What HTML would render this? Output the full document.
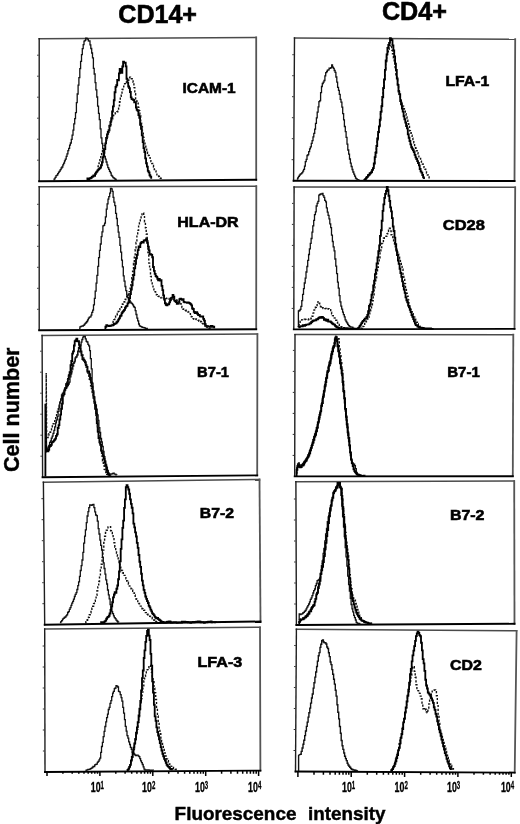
<!DOCTYPE html>
<html><head><meta charset="utf-8"><title>Figure</title>
<style>html,body{margin:0;padding:0;background:#fff;}body{width:520px;height:824px;overflow:hidden;font-family:"Liberation Sans",sans-serif;}svg{display:block;will-change:transform;}</style>
</head><body>
<svg width="520" height="824" viewBox="0 0 520 824">
<rect width="520" height="824" fill="#fff"/>
<line x1="39.2" y1="38.7" x2="256.2" y2="37.4" stroke="#4a4a4a" stroke-width="1.5" stroke-linecap="square"/>
<line x1="256.2" y1="37.4" x2="256.2" y2="179.8" stroke="#555" stroke-width="1.8" stroke-linecap="square"/>
<line x1="39.2" y1="38.7" x2="39.2" y2="181.2" stroke="#1e1e1e" stroke-width="1.4" stroke-linecap="square"/>
<line x1="39.2" y1="181.2" x2="256.2" y2="179.8" stroke="#000" stroke-width="1.9" stroke-linecap="square"/>
<path d="M38.7,160.2 h-1.6 M38.7,139.2 h-1.6 M38.7,118.2 h-1.6 M38.7,97.2 h-1.6 M38.7,76.2 h-1.6 M38.7,55.2 h-1.6" stroke="#333" stroke-width="1" fill="none"/>
<line x1="39.2" y1="186.7" x2="256.3" y2="186.2" stroke="#4a4a4a" stroke-width="1.5" stroke-linecap="square"/>
<line x1="256.3" y1="186.2" x2="256.2" y2="329.2" stroke="#555" stroke-width="1.8" stroke-linecap="square"/>
<line x1="39.2" y1="186.7" x2="39.2" y2="330.3" stroke="#1e1e1e" stroke-width="1.4" stroke-linecap="square"/>
<line x1="39.2" y1="330.3" x2="256.2" y2="329.2" stroke="#000" stroke-width="1.9" stroke-linecap="square"/>
<path d="M38.7,309.3 h-1.6 M38.7,288.3 h-1.6 M38.7,267.3 h-1.6 M38.7,246.3 h-1.6 M38.7,225.3 h-1.6 M38.7,204.3 h-1.6" stroke="#333" stroke-width="1" fill="none"/>
<line x1="42.1" y1="335.5" x2="257.4" y2="334.1" stroke="#4a4a4a" stroke-width="1.5" stroke-linecap="square"/>
<line x1="257.4" y1="334.1" x2="257.2" y2="475.4" stroke="#555" stroke-width="1.8" stroke-linecap="square"/>
<line x1="42.1" y1="335.5" x2="42.6" y2="477.2" stroke="#1e1e1e" stroke-width="1.4" stroke-linecap="square"/>
<line x1="42.6" y1="477.2" x2="257.2" y2="475.4" stroke="#000" stroke-width="1.9" stroke-linecap="square"/>
<path d="M42.0,456.2 h-1.6 M42.0,435.2 h-1.6 M41.9,414.2 h-1.6 M41.8,393.2 h-1.6 M41.7,372.2 h-1.6 M41.7,351.2 h-1.6" stroke="#333" stroke-width="1" fill="none"/>
<line x1="43.4" y1="482.3" x2="259.5" y2="479.4" stroke="#4a4a4a" stroke-width="1.5" stroke-linecap="square"/>
<line x1="259.5" y1="479.4" x2="260.5" y2="621.5" stroke="#555" stroke-width="1.8" stroke-linecap="square"/>
<line x1="43.4" y1="482.3" x2="44.7" y2="624.7" stroke="#1e1e1e" stroke-width="1.4" stroke-linecap="square"/>
<line x1="44.7" y1="624.7" x2="260.5" y2="621.5" stroke="#000" stroke-width="1.9" stroke-linecap="square"/>
<path d="M44.0,603.7 h-1.6 M43.8,582.7 h-1.6 M43.6,561.7 h-1.6 M43.4,540.7 h-1.6 M43.2,519.7 h-1.6 M43.0,498.7 h-1.6" stroke="#333" stroke-width="1" fill="none"/>
<line x1="44.7" y1="629.0" x2="260.0" y2="627.3" stroke="#4a4a4a" stroke-width="1.5" stroke-linecap="square"/>
<line x1="260.0" y1="627.3" x2="260.4" y2="770.6" stroke="#555" stroke-width="1.8" stroke-linecap="square"/>
<line x1="44.7" y1="629.0" x2="45.0" y2="772.0" stroke="#1e1e1e" stroke-width="1.4" stroke-linecap="square"/>
<line x1="45.0" y1="772.0" x2="260.4" y2="770.6" stroke="#000" stroke-width="1.9" stroke-linecap="square"/>
<path d="M44.5,751.0 h-1.6 M44.4,730.0 h-1.6 M44.4,709.0 h-1.6 M44.3,688.0 h-1.6 M44.3,667.0 h-1.6 M44.2,646.0 h-1.6" stroke="#333" stroke-width="1" fill="none"/>
<line x1="294.5" y1="38.0" x2="515.2" y2="39.2" stroke="#4a4a4a" stroke-width="1.5" stroke-linecap="square"/>
<line x1="515.2" y1="39.2" x2="514.5" y2="181.0" stroke="#555" stroke-width="1.8" stroke-linecap="square"/>
<line x1="294.5" y1="38.0" x2="293.6" y2="180.7" stroke="#1e1e1e" stroke-width="1.4" stroke-linecap="square"/>
<line x1="293.6" y1="180.7" x2="514.5" y2="181.0" stroke="#000" stroke-width="1.9" stroke-linecap="square"/>
<path d="M293.2,159.7 h-1.6 M293.4,138.7 h-1.6 M293.5,117.7 h-1.6 M293.6,96.7 h-1.6 M293.8,75.7 h-1.6 M293.9,54.7 h-1.6" stroke="#333" stroke-width="1" fill="none"/>
<line x1="294.1" y1="187.0" x2="515.2" y2="187.3" stroke="#4a4a4a" stroke-width="1.5" stroke-linecap="square"/>
<line x1="515.2" y1="187.3" x2="514.5" y2="328.9" stroke="#555" stroke-width="1.8" stroke-linecap="square"/>
<line x1="294.1" y1="187.0" x2="293.8" y2="329.4" stroke="#1e1e1e" stroke-width="1.4" stroke-linecap="square"/>
<line x1="293.8" y1="329.4" x2="514.5" y2="328.9" stroke="#000" stroke-width="1.9" stroke-linecap="square"/>
<path d="M293.3,308.4 h-1.6 M293.4,287.4 h-1.6 M293.4,266.4 h-1.6 M293.5,245.4 h-1.6 M293.5,224.4 h-1.6 M293.6,203.4 h-1.6" stroke="#333" stroke-width="1" fill="none"/>
<line x1="295.0" y1="334.6" x2="513.3" y2="334.7" stroke="#4a4a4a" stroke-width="1.5" stroke-linecap="square"/>
<line x1="513.3" y1="334.7" x2="512.8" y2="476.2" stroke="#555" stroke-width="1.8" stroke-linecap="square"/>
<line x1="295.0" y1="334.6" x2="294.7" y2="476.4" stroke="#1e1e1e" stroke-width="1.4" stroke-linecap="square"/>
<line x1="294.7" y1="476.4" x2="512.8" y2="476.2" stroke="#000" stroke-width="1.9" stroke-linecap="square"/>
<path d="M294.2,455.4 h-1.6 M294.3,434.4 h-1.6 M294.3,413.4 h-1.6 M294.4,392.4 h-1.6 M294.4,371.4 h-1.6 M294.5,350.4 h-1.6" stroke="#333" stroke-width="1" fill="none"/>
<line x1="295.9" y1="481.8" x2="514.2" y2="481.1" stroke="#4a4a4a" stroke-width="1.5" stroke-linecap="square"/>
<line x1="514.2" y1="481.1" x2="514.5" y2="623.8" stroke="#555" stroke-width="1.8" stroke-linecap="square"/>
<line x1="295.9" y1="481.8" x2="296.4" y2="625.0" stroke="#1e1e1e" stroke-width="1.4" stroke-linecap="square"/>
<line x1="296.4" y1="625.0" x2="514.5" y2="623.8" stroke="#000" stroke-width="1.9" stroke-linecap="square"/>
<path d="M295.8,604.0 h-1.6 M295.8,583.0 h-1.6 M295.7,562.0 h-1.6 M295.6,541.0 h-1.6 M295.5,520.0 h-1.6 M295.5,499.0 h-1.6" stroke="#333" stroke-width="1" fill="none"/>
<line x1="296.4" y1="629.3" x2="516.6" y2="630.8" stroke="#4a4a4a" stroke-width="1.5" stroke-linecap="square"/>
<line x1="516.6" y1="630.8" x2="514.7" y2="772.6" stroke="#555" stroke-width="1.8" stroke-linecap="square"/>
<line x1="296.4" y1="629.3" x2="295.5" y2="771.5" stroke="#1e1e1e" stroke-width="1.4" stroke-linecap="square"/>
<line x1="295.5" y1="771.5" x2="514.7" y2="772.6" stroke="#000" stroke-width="1.9" stroke-linecap="square"/>
<path d="M295.1,750.5 h-1.6 M295.3,729.5 h-1.6 M295.4,708.5 h-1.6 M295.5,687.5 h-1.6 M295.7,666.5 h-1.6 M295.8,645.5 h-1.6" stroke="#333" stroke-width="1" fill="none"/>
<path d="M53.4,180.0 H54.2 V178.9 H55.1 V177.4 H56.0 V175.6 H56.8 V175.1 H57.7 V173.7 H58.5 V172.1 H59.4 V171.2 H60.2 V169.7 H61.1 V168.0 H61.9 V167.0 H62.8 V164.9 H63.6 V163.1 H64.5 V160.9 H65.3 V159.1 H66.2 V156.3 H67.0 V153.9 H67.9 V150.7 H68.7 V148.3 H69.6 V145.1 H70.4 V143.0 H71.3 V139.3 H72.1 V135.2 H73.0 V130.2 H73.8 V123.8 H74.7 V118.7 H75.5 V112.6 H76.4 V102.7 H77.2 V94.0 H78.1 V85.2 H78.9 V77.7 H79.8 V68.7 H80.6 V61.4 H81.5 V54.6 H82.3 V48.6 H83.2 V44.6 H84.0 V41.1 H84.9 V40.3 H85.7 V38.1 H86.6 V38.5 H87.4 V39.2 H88.3 V40.9 H89.1 V41.0 H90.0 V44.9 H90.8 V48.5 H91.7 V53.0 H92.5 V57.8 H93.4 V68.4 H94.2 V74.0 H95.1 V82.6 H95.9 V89.8 H96.8 V97.0 H97.6 V106.1 H98.5 V113.3 H99.3 V119.7 H100.2 V128.9 H101.0 V137.9 H101.9 V143.5 H102.7 V148.7 H103.6 V152.5 H104.4 V156.4 H105.3 V159.1 H106.1 V162.0 H107.0 V164.8 H107.8 V167.7 H108.7 V169.4 H109.5 V171.3 H110.4 V172.8 H111.2 V175.3 H112.1 V176.3 H112.9 V177.6 H113.8 V178.2 H114.6 V178.8 H115.5 V179.5 H116.3 V179.8" fill="none" stroke="#111" stroke-width="1.3"/>
<path d="M86.6,179.7 H87.4 V178.5 H88.3 V179.0 H89.1 V178.5 H90.0 V178.2 H90.8 V177.8 H91.7 V176.8 H92.5 V176.5 H93.4 V175.4 H94.2 V175.8 H95.1 V173.7 H95.9 V172.4 H96.8 V171.4 H97.6 V170.1 H98.5 V169.1 H99.3 V168.4 H100.2 V167.6 H101.0 V165.2 H101.9 V162.2 H102.7 V157.2 H103.6 V152.8 H104.4 V149.1 H105.3 V143.4 H106.1 V138.0 H107.0 V134.4 H107.8 V132.0 H108.7 V130.4 H109.5 V125.7 H110.4 V121.9 H111.2 V118.2 H112.1 V111.5 H112.9 V106.3 H113.8 V100.2 H114.6 V92.2 H115.5 V86.9 H116.3 V85.2 H117.2 V79.8 H118.0 V80.4 H118.9 V73.4 H119.7 V69.0 H120.6 V71.3 H121.4 V72.7 H122.3 V66.5 H123.1 V61.7 H124.0 V62.8 H124.8 V62.7 H125.7 V66.3 H126.5 V78.7 H127.4 V82.6 H128.2 V86.5 H129.1 V88.1 H129.9 V92.0 H130.8 V97.4 H131.6 V99.1 H132.5 V99.4 H133.3 V100.0 H134.2 V102.4 H135.0 V102.2 H135.9 V107.5 H136.7 V109.9 H137.6 V110.7 H138.4 V115.1 H139.3 V117.9 H140.1 V124.7 H141.0 V128.7 H141.8 V135.3 H142.7 V142.1 H143.5 V148.1 H144.4 V152.0 H145.2 V158.4 H146.1 V163.2 H146.9 V166.6 H147.8 V170.8 H148.6 V172.4 H149.5 V175.2 H150.3 V176.6 H151.2 V178.8" fill="none" stroke="#000" stroke-width="1.85"/>
<path d="M97.4,166.6 H98.2 V163.6 H99.1 V161.1 H99.9 V157.9 H100.8 V154.6 H101.6 V152.8 H102.5 V150.5 H103.3 V148.7 H104.2 V145.8 H105.0 V144.1 H105.9 V141.1 H106.7 V138.1 H107.6 V133.7 H108.4 V130.1 H109.3 V125.8 H110.1 V124.9 H111.0 V120.6 H111.8 V119.8 H112.7 V117.1 H113.5 V115.1 H114.4 V113.8 H115.2 V112.9 H116.1 V112.7 H116.9 V111.7 H117.8 V111.2 H118.6 V105.9 H119.5 V101.8 H120.3 V96.4 H121.2 V94.0 H122.0 V89.5 H122.9 V87.9 H123.7 V86.2 H124.6 V83.7 H125.4 V83.9 H126.3 V82.3 H127.1 V81.6 H128.0 V80.2 H128.8 V77.8 H129.7 V77.1 H130.5 V77.5 H131.4 V78.8 H132.2 V80.1 H133.1 V82.2 H133.9 V87.6 H134.8 V93.8 H135.6 V98.7 H136.5 V101.3 H137.3 V103.2 H138.2 V107.4 H139.0 V110.6 H139.9 V115.8 H140.7 V121.4 H141.6 V126.4 H142.4 V132.1 H143.3 V137.4 H144.1 V142.4 H145.0 V145.2 H145.8 V149.1 H146.7 V150.8 H147.5 V153.2 H148.4 V155.5 H149.2 V157.6 H150.1 V159.8 H150.9 V161.6 H151.8 V163.5 H152.6 V165.5 H153.5 V167.0 H154.3 V169.5 H155.2 V170.9 H156.0 V172.6 H156.9 V174.9 H157.7 V175.8 H158.6 V176.5 H159.4 V177.9 H160.3 V178.3 H161.1 V179.1" fill="none" stroke="#111" stroke-width="1.4" stroke-dasharray="2.2 1.7"/>
<path d="M79.1,329.0 H79.9 V326.8 H80.8 V326.3 H81.6 V326.1 H82.5 V326.0 H83.3 V325.4 H84.2 V324.5 H85.0 V323.4 H85.9 V322.5 H86.7 V321.5 H87.6 V319.9 H88.4 V318.2 H89.3 V317.2 H90.1 V316.9 H91.0 V315.1 H91.8 V312.4 H92.7 V310.1 H93.5 V304.9 H94.4 V298.3 H95.2 V291.2 H96.1 V283.1 H96.9 V275.4 H97.8 V266.3 H98.6 V257.7 H99.5 V250.4 H100.3 V244.0 H101.2 V236.7 H102.0 V231.9 H102.9 V225.9 H103.7 V225.3 H104.6 V223.2 H105.4 V216.8 H106.3 V209.2 H107.1 V203.8 H108.0 V199.2 H108.8 V196.6 H109.7 V193.1 H110.5 V188.3 H111.4 V188.9 H112.2 V191.3 H113.1 V197.3 H113.9 V202.1 H114.8 V205.7 H115.6 V213.4 H116.5 V218.5 H117.3 V225.7 H118.2 V232.2 H119.0 V237.4 H119.9 V245.3 H120.7 V252.2 H121.6 V260.1 H122.4 V266.9 H123.3 V275.9 H124.1 V281.2 H125.0 V286.5 H125.8 V290.6 H126.7 V295.2 H127.5 V297.5 H128.4 V300.1 H129.2 V300.7 H130.1 V302.0 H130.9 V303.0 H131.8 V303.6 H132.6 V304.8 H133.5 V306.5 H134.3 V307.4 H135.2 V310.7 H136.0 V314.5 H136.9 V318.1 H137.7 V320.9 H138.6 V324.0 H139.4 V325.9 H140.3 V326.4 H141.1 V326.7 H142.0 V327.4 H142.8 V327.3 H143.7 V327.6 H144.5 V327.8 H145.4 V328.4 H146.2 V328.3 H147.1 V328.3 H147.9 V328.3" fill="none" stroke="#111" stroke-width="1.3"/>
<path d="M104.6,329.0 H105.4 V326.7 H106.3 V325.1 H107.1 V325.7 H108.0 V325.9 H108.8 V326.0 H109.7 V325.7 H110.5 V325.9 H111.4 V325.4 H112.2 V325.3 H113.1 V324.9 H113.9 V324.0 H114.8 V323.6 H115.6 V323.3 H116.5 V322.2 H117.3 V321.4 H118.2 V319.6 H119.0 V318.4 H119.9 V316.2 H120.7 V315.5 H121.6 V313.1 H122.4 V311.8 H123.3 V310.9 H124.1 V309.8 H125.0 V307.7 H125.8 V306.3 H126.7 V305.9 H127.5 V303.4 H128.4 V302.2 H129.2 V298.3 H130.1 V294.0 H130.9 V289.5 H131.8 V285.4 H132.6 V279.5 H133.5 V275.0 H134.3 V268.3 H135.2 V263.7 H136.0 V258.4 H136.9 V254.8 H137.7 V250.1 H138.6 V246.4 H139.4 V247.1 H140.3 V243.4 H141.1 V242.4 H142.0 V242.0 H142.8 V242.6 H143.7 V240.3 H144.5 V240.6 H145.4 V239.8 H146.2 V238.4 H147.1 V242.9 H147.9 V246.6 H148.8 V250.4 H149.6 V254.3 H150.5 V254.2 H151.3 V254.9 H152.2 V257.2 H153.0 V267.0 H153.9 V270.8 H154.7 V273.8 H155.6 V276.0 H156.4 V276.9 H157.3 V278.7 H158.1 V280.4 H159.0 V278.9 H159.8 V280.5 H160.7 V280.2 H161.5 V285.8 H162.4 V290.1 H163.2 V295.4 H164.1 V299.5 H164.9 V303.2 H165.8 V304.9 H166.6 V305.2 H167.5 V304.2 H168.3 V304.4 H169.2 V302.3 H170.0 V300.3 H170.9 V298.1 H171.7 V297.6 H172.6 V294.9 H173.4 V296.6 H174.3 V300.6 H175.1 V301.2 H176.0 V302.1 H176.8 V303.7 H177.7 V303.6 H178.5 V302.5 H179.4 V299.1 H180.2 V298.6 H181.1 V299.1 H181.9 V299.7 H182.8 V299.1 H183.6 V301.9 H184.5 V302.4 H185.3 V302.3 H186.2 V302.4 H187.0 V302.8 H187.9 V302.3 H188.7 V302.8 H189.6 V303.4 H190.4 V304.1 H191.3 V305.4 H192.1 V308.5 H193.0 V309.0 H193.8 V311.9 H194.7 V313.1 H195.5 V312.7 H196.4 V312.1 H197.2 V313.7 H198.1 V315.0 H198.9 V314.9 H199.8 V316.4 H200.6 V316.6 H201.5 V316.6 H202.3 V316.4 H203.2 V318.8 H204.0 V320.6 H204.9 V324.2 H205.7 V325.8 H206.6 V326.3 H207.4 V326.1 H208.3 V326.6 H209.1 V326.6 H210.0 V326.7 H210.8 V325.9 H211.7 V326.0 H212.5 V326.7 H213.4 V326.7 H214.2 V328.3" fill="none" stroke="#000" stroke-width="1.85"/>
<path d="M111.4,325.2 H112.2 V323.4 H113.1 V321.5 H113.9 V319.6 H114.8 V318.0 H115.6 V316.1 H116.5 V314.7 H117.3 V313.5 H118.2 V311.4 H119.0 V309.8 H119.9 V308.7 H120.7 V307.2 H121.6 V305.8 H122.4 V304.0 H123.3 V302.9 H124.1 V301.7 H125.0 V299.5 H125.8 V298.4 H126.7 V296.5 H127.5 V295.2 H128.4 V293.2 H129.2 V291.6 H130.1 V288.1 H130.9 V283.9 H131.8 V277.8 H132.6 V271.1 H133.5 V263.5 H134.3 V257.2 H135.2 V249.7 H136.0 V242.4 H136.9 V235.1 H137.7 V230.4 H138.6 V225.3 H139.4 V221.5 H140.3 V219.3 H141.1 V214.9 H142.0 V213.0 H142.8 V213.0 H143.7 V215.5 H144.5 V221.8 H145.4 V227.7 H146.2 V234.0 H147.1 V241.0 H147.9 V252.5 H148.8 V263.1 H149.6 V269.3 H150.5 V276.4 H151.3 V280.9 H152.2 V284.7 H153.0 V288.9 H153.9 V290.6 H154.7 V291.6 H155.6 V293.5 H156.4 V294.8 H157.3 V295.3 H158.1 V296.2 H159.0 V296.5 H159.8 V297.2 H160.7 V297.9 H161.5 V297.4 H162.4 V298.0 H163.2 V297.9 H164.1 V298.3 H164.9 V298.0 H165.8 V298.3 H166.6 V298.6 H167.5 V299.1 H168.3 V299.3 H169.2 V298.5 H170.0 V298.8 H170.9 V299.4 H171.7 V298.5 H172.6 V299.1 H173.4 V299.4 H174.3 V300.0 H175.1 V300.0 H176.0 V299.9 H176.8 V300.4 H177.7 V301.1 H178.5 V302.5 H179.4 V302.7 H180.2 V303.8 H181.1 V305.6 H181.9 V307.6 H182.8 V309.0 H183.6 V309.4 H184.5 V310.1 H185.3 V310.3 H186.2 V311.2 H187.0 V311.5 H187.9 V312.0 H188.7 V312.9 H189.6 V313.6 H190.4 V315.1 H191.3 V316.8 H192.1 V318.6 H193.0 V318.6 H193.8 V319.3 H194.7 V318.9 H195.5 V319.0 H196.4 V319.6 H197.2 V319.6 H198.1 V320.2 H198.9 V321.2 H199.8 V321.0 H200.6 V321.7 H201.5 V322.6 H202.3 V323.4 H203.2 V324.2 H204.0 V325.1 H204.9 V326.1 H205.7 V326.8 H206.6 V327.0 H207.4 V327.6 H208.3 V328.0 H209.1 V328.2 H210.0 V328.6 H210.8 V328.6" fill="none" stroke="#111" stroke-width="1.4" stroke-dasharray="2.2 1.7"/>
<path d="M46.2,450.5 H47.1 V449.0 H47.9 V447.1 H48.8 V445.4 H49.6 V442.4 H50.5 V440.9 H51.3 V438.1 H52.2 V436.2 H53.0 V433.3 H53.9 V430.4 H54.7 V426.8 H55.6 V422.9 H56.4 V419.8 H57.3 V416.6 H58.1 V411.4 H59.0 V407.4 H59.8 V402.2 H60.7 V399.0 H61.5 V395.0 H62.4 V393.5 H63.2 V392.4 H64.1 V390.9 H64.9 V388.3 H65.8 V388.3 H66.6 V386.8 H67.5 V385.5 H68.3 V384.0 H69.2 V382.2 H70.0 V376.8 H70.9 V373.9 H71.7 V367.9 H72.6 V363.9 H73.4 V362.8 H74.3 V361.5 H75.1 V357.8 H76.0 V357.1 H76.8 V355.0 H77.7 V351.1 H78.5 V347.7 H79.4 V346.4 H80.2 V346.0 H81.1 V342.2 H81.9 V339.5 H82.8 V337.1 H83.6 V336.4 H84.5 V336.5 H85.3 V338.8 H86.2 V341.3 H87.0 V342.0 H87.9 V344.4 H88.7 V345.9 H89.6 V350.6 H90.4 V358.6 H91.3 V368.9 H92.1 V383.1 H93.0 V390.8 H93.8 V396.7 H94.7 V402.1 H95.5 V405.0 H96.4 V409.1 H97.2 V414.9 H98.1 V420.5 H98.9 V427.6 H99.8 V432.5 H100.6 V438.4 H101.5 V442.0 H102.3 V446.5 H103.2 V451.3 H104.0 V456.7 H104.9 V460.8 H105.7 V464.5 H106.6 V467.2 H107.4 V470.4 H108.3 V473.0 H109.1 V473.8 H110.0 V474.1 H110.8 V474.1 H111.7 V473.8 H112.5 V473.4 H113.4 V473.1 H114.2 V474.2 H115.1 V474.1 H115.9 V474.8 H116.8 V475.1" fill="none" stroke="#111" stroke-width="1.3"/>
<path d="M45.4,476.5 L45.4,403.7 L46.4,451.7 L47.5,451.2 H48.4 V449.7 H49.2 V446.6 H50.1 V446.1 H50.9 V444.8 H51.8 V442.4 H52.6 V441.8 H53.5 V440.8 H54.3 V439.7 H55.2 V438.6 H56.0 V435.9 H56.9 V434.2 H57.7 V428.0 H58.6 V425.1 H59.4 V419.5 H60.3 V414.6 H61.1 V408.8 H62.0 V403.6 H62.8 V395.5 H63.7 V394.0 H64.5 V389.7 H65.4 V388.0 H66.2 V384.0 H67.1 V384.6 H67.9 V379.0 H68.8 V375.2 H69.6 V372.2 H70.5 V365.2 H71.3 V361.0 H72.2 V353.6 H73.0 V351.3 H73.9 V345.5 H74.7 V341.1 H75.6 V340.1 H76.4 V338.7 H77.3 V341.2 H78.1 V341.1 H79.0 V344.8 H79.8 V348.2 H80.7 V351.4 H81.5 V355.3 H82.4 V359.1 H83.2 V359.7 H84.1 V360.7 H84.9 V362.2 H85.8 V365.1 H86.6 V366.8 H87.5 V371.9 H88.3 V371.4 H89.2 V374.2 H90.0 V377.9 H90.9 V382.4 H91.7 V386.6 H92.6 V392.3 H93.4 V397.7 H94.3 V402.7 H95.1 V408.8 H96.0 V413.7 H96.8 V423.3 H97.7 V431.5 H98.5 V438.0 H99.4 V442.2 H100.2 V444.7 H101.1 V450.6 H101.9 V452.8 H102.8 V455.7 H103.6 V458.8 H104.5 V462.2 H105.3 V465.9 H106.2 V469.7 H107.0 V472.4 H107.9 V474.3 H108.7 V474.7 H109.6 V475.6 H110.4 V475.8" fill="none" stroke="#000" stroke-width="1.85"/>
<path d="M46.2,445.0 L46.2,373.0 L46.7,437.0 L47.2,437.6 H48.1 V435.8 H48.9 V433.8 H49.8 V432.2 H50.6 V429.9 H51.5 V427.9 H52.3 V426.0 H53.2 V423.8 H54.0 V421.3 H54.9 V418.5 H55.7 V415.9 H56.6 V413.4 H57.4 V411.1 H58.3 V408.6 H59.1 V405.3 H60.0 V402.3 H60.8 V400.1 H61.7 V396.1 H62.5 V394.2 H63.4 V391.9 H64.2 V388.6 H65.1 V386.0 H65.9 V383.8 H66.8 V382.3 H67.6 V379.5 H68.5 V376.3 H69.3 V375.0 H70.2 V373.8 H71.0 V371.8 H71.9 V369.6 H72.7 V367.0 H73.6 V363.7 H74.4 V362.3 H75.3 V359.2 H76.1 V356.6 H77.0 V355.5 H77.8 V353.0 H78.7 V351.7 H79.5 V351.2 H80.4 V351.3 H81.2 V352.8 H82.1 V354.9 H82.9 V358.0 H83.8 V360.2 H84.6 V362.3 H85.5 V366.2 H86.3 V368.6 H87.2 V371.0 H88.0 V375.7 H88.9 V378.9 H89.7 V381.6 H90.6 V385.8 H91.4 V388.6 H92.3 V392.1 H93.1 V397.0 H94.0 V401.1 H94.8 V408.0 H95.7 V415.1 H96.5 V421.5 H97.4 V426.9 H98.2 V432.4 H99.1 V438.1 H99.9 V444.2 H100.8 V450.5 H101.6 V455.9 H102.5 V461.0 H103.3 V465.7 H104.2 V469.4 H105.0 V471.9 H105.9 V473.8 H106.7 V475.1" fill="none" stroke="#111" stroke-width="1.4" stroke-dasharray="2.2 1.7"/>
<path d="M59.9,622.7 H60.8 V621.7 H61.6 V620.6 H62.5 V619.2 H63.3 V618.3 H64.2 V617.5 H65.0 V617.0 H65.9 V615.9 H66.7 V614.9 H67.6 V612.5 H68.4 V611.7 H69.3 V609.3 H70.1 V607.6 H71.0 V605.3 H71.8 V603.2 H72.7 V601.3 H73.5 V599.2 H74.4 V596.5 H75.2 V594.4 H76.1 V592.7 H76.9 V589.5 H77.8 V585.6 H78.6 V581.9 H79.5 V576.3 H80.3 V570.5 H81.2 V565.7 H82.0 V560.0 H82.9 V552.3 H83.7 V543.1 H84.6 V536.1 H85.4 V529.8 H86.3 V522.7 H87.1 V516.0 H88.0 V511.7 H88.8 V507.6 H89.7 V504.8 H90.5 V505.1 H91.4 V505.4 H92.2 V504.6 H93.1 V504.4 H93.9 V507.7 H94.8 V511.8 H95.6 V515.0 H96.5 V515.7 H97.3 V521.1 H98.2 V528.6 H99.0 V534.0 H99.9 V540.2 H100.7 V545.3 H101.6 V550.0 H102.4 V557.3 H103.3 V562.9 H104.1 V568.5 H105.0 V574.1 H105.8 V579.8 H106.7 V584.0 H107.5 V590.0 H108.4 V594.9 H109.2 V598.9 H110.1 V604.6 H110.9 V608.4 H111.8 V611.6 H112.6 V613.7 H113.5 V615.9 H114.3 V617.7 H115.2 V618.7 H116.0 V620.1 H116.9 V621.0 H117.7 V622.0 H118.6 V622.4" fill="none" stroke="#111" stroke-width="1.3"/>
<path d="M85.1,622.7 H85.9 V621.6 H86.8 V620.2 H87.6 V618.6 H88.5 V617.2 H89.3 V614.7 H90.2 V612.7 H91.0 V610.2 H91.9 V608.2 H92.7 V606.2 H93.6 V603.6 H94.4 V601.4 H95.3 V597.9 H96.1 V595.3 H97.0 V590.7 H97.8 V586.9 H98.7 V581.5 H99.5 V576.2 H100.4 V570.0 H101.2 V564.2 H102.1 V557.6 H102.9 V550.1 H103.8 V542.5 H104.6 V536.2 H105.5 V532.5 H106.3 V530.3 H107.2 V528.7 H108.0 V526.9 H108.9 V527.0 H109.7 V526.7 H110.6 V530.8 H111.4 V532.5 H112.3 V535.0 H113.1 V537.6 H114.0 V542.8 H114.8 V547.3 H115.7 V550.8 H116.5 V553.2 H117.4 V556.2 H118.2 V559.9 H119.1 V562.5 H119.9 V565.2 H120.8 V568.7 H121.6 V570.5 H122.5 V572.7 H123.3 V574.3 H124.2 V575.4 H125.0 V576.4 H125.9 V578.8 H126.7 V581.0 H127.6 V582.3 H128.4 V584.3 H129.3 V586.1 H130.1 V586.9 H131.0 V588.7 H131.8 V590.0 H132.7 V591.2 H133.5 V592.9 H134.4 V595.0 H135.2 V597.7 H136.1 V599.2 H136.9 V600.9 H137.8 V602.6 H138.6 V603.5 H139.5 V604.7 H140.3 V606.1 H141.2 V607.6 H142.0 V608.8 H142.9 V609.4 H143.7 V610.3 H144.6 V611.7 H145.4 V612.6 H146.3 V613.4 H147.1 V614.3 H148.0 V615.0 H148.8 V615.4 H149.7 V616.2 H150.5 V616.6 H151.4 V617.5 H152.2 V618.7 H153.1 V619.6 H153.9 V620.3 H154.8 V620.8 H155.6 V621.4 H156.5 V621.8 H157.3 V621.8" fill="none" stroke="#111" stroke-width="1.4" stroke-dasharray="2.2 1.7"/>
<path d="M100.3,622.7 H101.1 V622.1 H102.0 V622.7 H102.8 V622.2 H103.7 V622.2 H104.5 V621.4 H105.4 V620.6 H106.2 V618.7 H107.1 V617.4 H107.9 V616.9 H108.8 V615.7 H109.6 V613.5 H110.5 V610.0 H111.3 V606.6 H112.2 V602.2 H113.0 V597.3 H113.9 V594.5 H114.7 V592.2 H115.6 V592.8 H116.4 V588.7 H117.3 V585.5 H118.1 V579.2 H119.0 V571.5 H119.8 V561.3 H120.7 V548.9 H121.5 V539.4 H122.4 V527.9 H123.2 V520.6 H124.1 V507.8 H124.9 V499.3 H125.8 V487.2 H126.6 V485.2 H127.5 V487.1 H128.3 V489.5 H129.2 V493.7 H130.0 V499.4 H130.9 V503.8 H131.7 V507.7 H132.6 V513.4 H133.4 V523.6 H134.3 V527.4 H135.1 V532.3 H136.0 V536.5 H136.8 V542.8 H137.7 V547.9 H138.5 V555.0 H139.4 V561.7 H140.2 V566.9 H141.1 V573.7 H141.9 V580.6 H142.8 V585.3 H143.6 V589.9 H144.5 V592.9 H145.3 V596.5 H146.2 V598.8 H147.0 V601.1 H147.9 V603.0 H148.7 V605.9 H149.6 V607.3 H150.4 V609.6 H151.3 V611.3 H152.1 V613.3 H153.0 V614.1 H153.8 V615.3 H154.7 V616.8 H155.5 V617.7 H156.4 V618.3 H157.2 V617.9 H158.1 V619.1 H158.9 V619.7 H159.8 V620.3 H160.6 V621.1 H161.5 V622.1 H162.3 V621.9 H163.2 V622.1 H164.0 V622.6 H164.9 V622.5 H165.7 V622.4 H166.6 V621.9 H167.4 V621.7 H168.3 V621.7 H169.1 V621.3 H170.0 V621.6 H170.8 V622.5 H171.7 V622.6 H172.5 V622.3 H173.4 V622.2 H174.2 V622.4 H175.1 V622.2 H175.9 V622.3 H176.8 V622.7 H177.6 V622.4 H178.5 V622.6 H179.3 V622.4 H180.2 V622.5 H181.0 V622.5 H181.9 V621.7 H182.7 V621.7 H183.6 V621.6 H184.4 V621.7 H185.3 V622.1 H186.1 V622.1 H187.0 V621.8 H187.8 V622.2 H188.7 V622.2 H189.5 V622.2 H190.4 V622.7 H191.2 V622.1 H192.1 V622.2 H192.9 V621.9 H193.8 V622.2 H194.6 V621.9 H195.5 V621.8 H196.3 V621.7 H197.2 V621.9 H198.0 V621.4 H198.9 V621.5 H199.7 V621.6 H200.6 V622.3 H201.4 V622.2 H202.3 V622.2 H203.1 V622.3 H204.0 V622.7 H204.8 V622.3 H205.7 V622.4 H206.5 V622.2 H207.4 V622.0 H208.2 V621.7 H209.1 V621.8 H209.9 V621.7 H210.8 V621.3 H211.6 V622.4 H212.5 V622.1 H213.3 V622.1 H214.2 V622.1 H215.0 V622.2 H215.9 V622.7" fill="none" stroke="#000" stroke-width="1.85"/>
<path d="M85.4,770.5 H86.2 V770.2 H87.1 V769.9 H87.9 V769.3 H88.8 V769.4 H89.6 V769.2 H90.5 V768.6 H91.3 V768.1 H92.2 V767.5 H93.0 V766.4 H93.9 V766.5 H94.7 V764.9 H95.6 V764.4 H96.4 V764.1 H97.3 V762.3 H98.1 V761.3 H99.0 V759.8 H99.8 V758.1 H100.7 V752.3 H101.5 V746.5 H102.4 V742.3 H103.2 V736.7 H104.1 V731.3 H104.9 V726.5 H105.8 V721.9 H106.6 V717.6 H107.5 V714.1 H108.3 V709.5 H109.2 V707.4 H110.0 V703.3 H110.9 V700.7 H111.7 V696.7 H112.6 V693.1 H113.4 V691.3 H114.3 V688.7 H115.1 V688.0 H116.0 V685.6 H116.8 V686.1 H117.7 V687.0 H118.5 V691.3 H119.4 V691.9 H120.2 V694.7 H121.1 V697.6 H121.9 V701.2 H122.8 V707.4 H123.6 V713.1 H124.5 V719.7 H125.3 V726.4 H126.2 V731.1 H127.0 V735.6 H127.9 V738.2 H128.7 V741.8 H129.6 V744.5 H130.4 V747.3 H131.3 V749.3 H132.1 V752.2 H133.0 V753.7 H133.8 V754.0 H134.7 V754.8 H135.5 V755.6 H136.4 V755.1 H137.2 V755.1 H138.1 V755.9 H138.9 V756.6 H139.8 V758.6 H140.6 V760.9 H141.5 V762.6 H142.3 V764.5 H143.2 V766.8 H144.0 V769.1 H144.9 V770.0 H145.7 V769.8 H146.6 V770.0 H147.4 V770.0 H148.3 V769.9 H149.1 V770.2 H150.0 V770.3 H150.8 V770.1 H151.7 V770.3 H152.5 V770.1 H153.4 V770.4" fill="none" stroke="#111" stroke-width="1.3"/>
<path d="M128.5,768.8 H129.3 V766.7 H130.2 V764.4 H131.0 V761.2 H131.9 V758.2 H132.7 V754.5 H133.6 V749.5 H134.4 V745.4 H135.3 V739.7 H136.1 V735.5 H137.0 V729.2 H137.8 V722.6 H138.7 V716.7 H139.5 V710.6 H140.4 V704.3 H141.2 V698.5 H142.1 V692.1 H142.9 V687.0 H143.8 V681.0 H144.6 V676.4 H145.5 V672.8 H146.3 V670.5 H147.2 V669.6 H148.0 V668.0 H148.9 V666.8 H149.7 V665.5 H150.6 V668.4 H151.4 V672.0 H152.3 V676.6 H153.1 V680.8 H154.0 V688.1 H154.8 V692.7 H155.7 V699.5 H156.5 V708.2 H157.4 V715.9 H158.2 V722.2 H159.1 V729.2 H159.9 V733.8 H160.8 V738.0 H161.6 V741.5 H162.5 V744.9 H163.3 V748.3 H164.2 V751.7 H165.0 V754.4 H165.9 V756.4 H166.7 V759.1 H167.6 V760.7 H168.4 V762.6 H169.3 V764.2 H170.1 V764.9 H171.0 V766.4 H171.8 V767.1 H172.7 V767.5 H173.5 V768.4 H174.4 V768.9 H175.2 V769.3 H176.1 V769.6 H176.9 V769.6 H177.8 V769.9" fill="none" stroke="#111" stroke-width="1.4" stroke-dasharray="2.2 1.7"/>
<path d="M126.7,770.4 H127.5 V769.9 H128.4 V768.6 H129.2 V766.9 H130.1 V764.8 H130.9 V760.5 H131.8 V757.0 H132.6 V752.6 H133.5 V747.7 H134.3 V743.3 H135.2 V738.8 H136.0 V732.6 H136.9 V727.3 H137.7 V722.1 H138.6 V715.5 H139.4 V708.7 H140.3 V700.8 H141.1 V690.4 H142.0 V678.1 H142.8 V670.5 H143.7 V658.0 H144.5 V650.4 H145.4 V641.8 H146.2 V635.8 H147.1 V630.9 H147.9 V629.7 H148.8 V635.6 H149.6 V640.0 H150.5 V653.8 H151.3 V665.6 H152.2 V681.4 H153.0 V692.5 H153.9 V704.9 H154.7 V716.4 H155.6 V720.9 H156.4 V727.3 H157.3 V732.0 H158.1 V735.5 H159.0 V739.3 H159.8 V743.1 H160.7 V747.1 H161.5 V750.5 H162.4 V753.7 H163.2 V756.2 H164.1 V758.9 H164.9 V760.5 H165.8 V762.7 H166.6 V764.8 H167.5 V766.1 H168.3 V766.8 H169.2 V767.9 H170.0 V768.9 H170.9 V769.0 H171.7 V769.2 H172.6 V769.7" fill="none" stroke="#000" stroke-width="1.85"/>
<path d="M296.8,179.1 H297.7 V177.8 H298.5 V176.4 H299.4 V175.2 H300.2 V174.1 H301.1 V173.7 H301.9 V172.6 H302.8 V171.2 H303.6 V169.3 H304.5 V166.1 H305.3 V161.7 H306.2 V159.4 H307.0 V155.5 H307.9 V154.6 H308.7 V151.7 H309.6 V148.8 H310.4 V146.8 H311.3 V143.4 H312.1 V140.6 H313.0 V136.9 H313.8 V133.4 H314.7 V129.1 H315.5 V123.3 H316.4 V117.8 H317.2 V112.2 H318.1 V106.8 H318.9 V101.7 H319.8 V100.7 H320.6 V92.7 H321.5 V86.5 H322.3 V83.5 H323.2 V82.2 H324.0 V80.5 H324.9 V75.8 H325.7 V72.6 H326.6 V71.5 H327.4 V70.2 H328.3 V69.8 H329.1 V68.2 H330.0 V68.4 H330.8 V67.6 H331.7 V65.0 H332.5 V67.1 H333.4 V68.4 H334.2 V70.5 H335.1 V72.4 H335.9 V77.0 H336.8 V82.2 H337.6 V87.4 H338.5 V90.4 H339.3 V94.4 H340.2 V99.3 H341.0 V102.1 H341.9 V107.1 H342.7 V113.6 H343.6 V119.9 H344.4 V126.5 H345.3 V131.7 H346.1 V137.4 H347.0 V144.1 H347.8 V150.0 H348.7 V154.1 H349.5 V159.0 H350.4 V163.1 H351.2 V166.5 H352.1 V169.5 H352.9 V172.0 H353.8 V174.1 H354.6 V176.2 H355.5 V178.2 H356.3 V178.8 H357.2 V179.7 H358.0 V179.8 H358.9 V180.0" fill="none" stroke="#111" stroke-width="1.3"/>
<path d="M363.6,180.0 H364.5 V179.5 H365.3 V178.8 H366.2 V177.5 H367.0 V177.0 H367.9 V175.8 H368.7 V174.5 H369.6 V173.8 H370.4 V173.1 H371.3 V172.2 H372.1 V169.9 H373.0 V168.2 H373.8 V163.5 H374.7 V157.3 H375.5 V152.0 H376.4 V145.8 H377.2 V139.7 H378.1 V132.5 H378.9 V126.2 H379.8 V119.6 H380.6 V112.4 H381.5 V104.9 H382.3 V96.6 H383.2 V88.9 H384.0 V79.9 H384.9 V70.3 H385.7 V62.8 H386.6 V57.0 H387.4 V51.7 H388.3 V49.2 H389.1 V46.0 H390.0 V45.2 H390.8 V46.7 H391.7 V50.1 H392.5 V53.8 H393.4 V57.9 H394.2 V62.7 H395.1 V69.8 H395.9 V74.9 H396.8 V79.4 H397.6 V85.3 H398.5 V90.6 H399.3 V96.0 H400.2 V99.6 H401.0 V102.4 H401.9 V105.9 H402.7 V106.3 H403.6 V108.7 H404.4 V111.3 H405.3 V113.8 H406.1 V117.0 H407.0 V120.2 H407.8 V123.8 H408.7 V125.7 H409.5 V130.8 H410.4 V132.8 H411.2 V135.2 H412.1 V138.1 H412.9 V140.9 H413.8 V142.8 H414.6 V146.4 H415.5 V148.2 H416.3 V150.7 H417.2 V152.6 H418.0 V154.8 H418.9 V156.9 H419.7 V158.4 H420.6 V161.1 H421.4 V162.1 H422.3 V164.0 H423.1 V165.8 H424.0 V167.6 H424.8 V169.1 H425.7 V170.9 H426.5 V173.0 H427.4 V175.0 H428.2 V177.0 H429.1 V179.5" fill="none" stroke="#111" stroke-width="1.4" stroke-dasharray="2.2 1.7"/>
<path d="M363.6,180.0 H364.5 V179.9 H365.3 V178.9 H366.2 V177.6 H367.0 V176.9 H367.9 V175.2 H368.7 V174.8 H369.6 V173.5 H370.4 V172.9 H371.3 V171.7 H372.1 V169.8 H373.0 V168.1 H373.8 V163.5 H374.7 V157.1 H375.5 V152.8 H376.4 V146.1 H377.2 V138.4 H378.1 V132.0 H378.9 V126.4 H379.8 V119.7 H380.6 V111.8 H381.5 V106.0 H382.3 V97.2 H383.2 V88.0 H384.0 V79.4 H384.9 V69.9 H385.7 V60.5 H386.6 V54.3 H387.4 V47.8 H388.3 V45.0 H389.1 V42.9 H390.0 V38.1 H390.8 V39.2 H391.7 V40.1 H392.5 V45.3 H393.4 V50.5 H394.2 V56.3 H395.1 V63.7 H395.9 V70.0 H396.8 V78.5 H397.6 V84.9 H398.5 V91.6 H399.3 V94.1 H400.2 V101.0 H401.0 V104.2 H401.9 V108.5 H402.7 V111.6 H403.6 V116.2 H404.4 V119.2 H405.3 V122.5 H406.1 V126.0 H407.0 V128.3 H407.8 V134.4 H408.7 V137.7 H409.5 V141.0 H410.4 V144.3 H411.2 V147.2 H412.1 V148.7 H412.9 V150.2 H413.8 V152.1 H414.6 V154.8 H415.5 V157.3 H416.3 V159.0 H417.2 V161.1 H418.0 V163.0 H418.9 V165.3 H419.7 V169.0 H420.6 V171.4 H421.4 V172.6 H422.3 V175.0 H423.1 V177.3 H424.0 V178.9" fill="none" stroke="#000" stroke-width="1.85"/>
<path d="M297.5,326.7 H298.4 V311.0 H299.2 V310.5 H300.1 V309.3 H300.9 V306.4 H301.8 V300.6 H302.6 V294.3 H303.5 V288.7 H304.3 V283.0 H305.2 V278.2 H306.0 V272.0 H306.9 V266.5 H307.7 V260.4 H308.6 V254.5 H309.4 V248.8 H310.3 V243.3 H311.1 V238.5 H312.0 V232.1 H312.8 V225.8 H313.7 V220.4 H314.5 V214.6 H315.4 V211.9 H316.2 V206.0 H317.1 V203.3 H317.9 V201.4 H318.8 V195.2 H319.6 V194.5 H320.5 V193.9 H321.3 V194.1 H322.2 V193.3 H323.0 V195.7 H323.9 V197.4 H324.7 V200.4 H325.6 V201.9 H326.4 V207.8 H327.3 V212.2 H328.1 V215.3 H329.0 V218.8 H329.8 V223.8 H330.7 V227.7 H331.5 V235.2 H332.4 V241.5 H333.2 V246.8 H334.1 V250.8 H334.9 V259.0 H335.8 V266.2 H336.6 V273.6 H337.5 V282.1 H338.3 V288.1 H339.2 V295.7 H340.0 V301.9 H340.9 V306.1 H341.7 V309.1 H342.6 V312.2 H343.4 V314.7 H344.3 V316.8 H345.1 V319.9 H346.0 V321.5 H346.8 V322.8 H347.7 V324.4 H348.5 V325.7 H349.4 V326.3 H350.2 V326.9 H351.1 V327.2 H351.9 V327.2 H352.8 V328.1 H353.6 V328.4 H354.5 V328.2" fill="none" stroke="#111" stroke-width="1.3"/>
<path d="M298.4,325.1 H299.2 V323.5 H300.1 V321.1 H301.0 V320.7 H301.8 V319.6 H302.7 V319.4 H303.5 V319.4 H304.4 V319.3 H305.2 V319.5 H306.1 V319.8 H306.9 V319.7 H307.8 V319.7 H308.6 V319.0 H309.5 V318.6 H310.3 V318.8 H311.2 V317.9 H312.0 V316.2 H312.9 V313.1 H313.7 V310.1 H314.6 V309.0 H315.4 V307.2 H316.3 V305.5 H317.1 V303.0 H318.0 V301.7 H318.8 V302.4 H319.7 V305.0 H320.5 V306.7 H321.4 V307.9 H322.2 V307.7 H323.1 V308.5 H323.9 V308.8 H324.8 V308.6 H325.6 V308.5 H326.5 V309.2 H327.3 V309.1 H328.2 V308.8 H329.0 V309.0 H329.9 V309.8 H330.7 V312.2 H331.6 V313.9 H332.4 V315.6 H333.3 V317.0 H334.1 V317.9 H335.0 V319.4 H335.8 V320.3 H336.7 V321.9 H337.5 V323.1 H338.4 V324.5 H339.2 V325.4 H340.1 V326.0 H340.9 V326.6 H341.8 V327.3 H342.6 V327.7 H343.5 V327.6 H344.3 V328.1 H345.2 V327.8 H346.0 V328.1 H346.9 V328.3 H347.7 V328.4 H348.6 V328.4 H349.4 V328.5 H350.3 V328.6 H351.1 V328.6 H352.0 V328.6 H352.8 V328.8 H353.7 V328.8 H354.5 V328.8 H355.4 V328.8 H356.2 V328.8 H357.1 V328.7 H357.9 V328.7 H358.8 V328.6 H359.6 V328.7 H360.5 V328.6 H361.3 V328.2 H362.2 V327.5 H363.0 V326.4 H363.9 V325.3 H364.7 V323.5 H365.6 V321.9 H366.4 V320.6 H367.3 V318.7 H368.1 V317.4 H369.0 V315.2 H369.8 V312.6 H370.7 V309.4 H371.5 V305.6 H372.4 V300.8 H373.2 V295.5 H374.1 V289.6 H374.9 V283.1 H375.8 V278.6 H376.6 V272.7 H377.5 V267.3 H378.3 V263.1 H379.2 V257.9 H380.0 V252.0 H380.9 V247.6 H381.7 V243.4 H382.6 V241.6 H383.4 V238.2 H384.3 V237.6 H385.1 V236.4 H386.0 V236.3 H386.8 V233.9 H387.7 V231.2 H388.5 V228.8 H389.4 V228.3 H390.2 V230.9 H391.1 V234.7 H391.9 V236.7 H392.8 V239.0 H393.6 V242.7 H394.5 V244.7 H395.3 V246.9 H396.2 V249.3 H397.0 V252.2 H397.9 V253.2 H398.7 V255.4 H399.6 V258.7 H400.4 V262.0 H401.3 V265.3 H402.1 V269.2 H403.0 V274.3 H403.8 V279.4 H404.7 V283.8 H405.5 V288.5 H406.4 V293.3 H407.2 V296.2 H408.1 V300.1 H408.9 V303.8 H409.8 V306.7 H410.6 V309.3 H411.5 V311.9 H412.3 V313.6 H413.2 V315.7 H414.0 V317.1 H414.9 V319.1 H415.7 V321.2 H416.6 V322.3 H417.4 V324.0 H418.3 V325.4 H419.1 V326.3 H420.0 V327.3 H420.8 V327.8 H421.7 V328.4 H422.5 V328.6" fill="none" stroke="#111" stroke-width="1.4" stroke-dasharray="2.2 1.7"/>
<path d="M298.4,327.4 H299.2 V326.9 H300.1 V326.4 H301.0 V326.1 H301.8 V326.4 H302.7 V325.2 H303.5 V325.8 H304.4 V325.7 H305.2 V325.0 H306.1 V324.6 H306.9 V324.6 H307.8 V324.4 H308.6 V324.3 H309.5 V323.4 H310.3 V323.2 H311.2 V322.0 H312.0 V321.4 H312.9 V320.7 H313.7 V320.5 H314.6 V320.4 H315.4 V320.2 H316.3 V319.1 H317.1 V319.4 H318.0 V318.4 H318.8 V317.6 H319.7 V317.1 H320.5 V317.9 H321.4 V317.0 H322.2 V317.1 H323.1 V317.9 H323.9 V319.7 H324.8 V319.2 H325.6 V320.3 H326.5 V320.7 H327.3 V319.7 H328.2 V321.5 H329.0 V321.3 H329.9 V321.4 H330.7 V322.1 H331.6 V323.1 H332.4 V323.7 H333.3 V324.4 H334.1 V324.6 H335.0 V325.8 H335.8 V326.5 H336.7 V327.2 H337.5 V327.4 H338.4 V328.0 H339.2 V328.3 H340.1 V328.1 H340.9 V328.3 H341.8 V328.4 H342.6 V328.5 H343.5 V328.7 H344.3 V328.2 H345.2 V328.5 H346.0 V328.7 H346.9 V328.3 H347.7 V328.5 H348.6 V328.8 H349.4 V328.6 H350.3 V328.7 H351.1 V328.8 H352.0 V328.7 H352.8 V328.7 H353.7 V328.7 H354.5 V328.7 H355.4 V328.6 H356.2 V328.7 H357.1 V328.8 H357.9 V328.1 H358.8 V327.4 H359.6 V325.9 H360.5 V324.6 H361.3 V323.1 H362.2 V321.6 H363.0 V320.9 H363.9 V320.0 H364.7 V318.6 H365.6 V318.4 H366.4 V317.0 H367.3 V314.9 H368.1 V311.1 H369.0 V306.0 H369.8 V304.5 H370.7 V300.0 H371.5 V294.7 H372.4 V291.9 H373.2 V285.5 H374.1 V280.6 H374.9 V274.2 H375.8 V269.6 H376.6 V263.3 H377.5 V257.5 H378.3 V251.1 H379.2 V245.4 H380.0 V235.8 H380.9 V230.2 H381.7 V220.7 H382.6 V210.9 H383.4 V204.4 H384.3 V197.8 H385.1 V193.9 H386.0 V191.0 H386.8 V187.0 H387.7 V190.2 H388.5 V195.7 H389.4 V201.0 H390.2 V207.3 H391.1 V211.3 H391.9 V218.1 H392.8 V226.5 H393.6 V231.0 H394.5 V237.6 H395.3 V244.1 H396.2 V250.6 H397.0 V255.1 H397.9 V260.5 H398.7 V263.8 H399.6 V268.7 H400.4 V273.0 H401.3 V276.8 H402.1 V281.3 H403.0 V286.0 H403.8 V289.5 H404.7 V292.9 H405.5 V297.4 H406.4 V300.4 H407.2 V302.2 H408.1 V305.6 H408.9 V307.3 H409.8 V309.8 H410.6 V312.0 H411.5 V315.0 H412.3 V316.7 H413.2 V319.1 H414.0 V321.3 H414.9 V323.6 H415.7 V325.1 H416.6 V325.3 H417.4 V326.5 H418.3 V326.8 H419.1 V327.5 H420.0 V327.8 H420.8 V327.6 H421.7 V327.9 H422.5 V328.0 H423.4 V328.2 H424.2 V328.6 H425.1 V328.3 H425.9 V328.3 H426.8 V328.8 H427.6 V328.4 H428.5 V328.6 H429.3 V328.7 H430.2 V328.5 H431.0 V328.8 H431.9 V328.8 H432.7 V328.8 H433.6 V328.8" fill="none" stroke="#000" stroke-width="1.85"/>
<path d="M295.9,472.1 H296.8 V467.3 H297.6 V464.0 H298.5 V463.0 H299.3 V464.9 H300.2 V464.9 H301.0 V465.4 H301.9 V464.3 H302.7 V463.3 H303.6 V462.4 H304.4 V461.2 H305.3 V459.8 H306.1 V458.6 H307.0 V457.6 H307.8 V454.9 H308.7 V453.1 H309.5 V450.6 H310.4 V448.3 H311.2 V445.7 H312.1 V443.1 H312.9 V439.7 H313.8 V436.7 H314.6 V433.8 H315.5 V431.4 H316.3 V427.7 H317.2 V425.0 H318.0 V421.9 H318.9 V416.8 H319.7 V413.0 H320.6 V410.4 H321.4 V403.6 H322.3 V398.4 H323.1 V394.1 H324.0 V390.4 H324.8 V385.6 H325.7 V378.5 H326.5 V374.9 H327.4 V370.3 H328.2 V366.4 H329.1 V362.1 H329.9 V360.8 H330.8 V355.1 H331.6 V351.7 H332.5 V348.1 H333.3 V346.4 H334.2 V342.8 H335.0 V337.3 H335.9 V337.1 H336.7 V341.7 H337.6 V344.8 H338.4 V351.0 H339.3 V357.5 H340.1 V362.1 H341.0 V368.7 H341.8 V375.6 H342.7 V384.8 H343.5 V392.7 H344.4 V402.8 H345.2 V411.2 H346.1 V420.1 H346.9 V427.7 H347.8 V435.3 H348.6 V441.6 H349.5 V448.2 H350.3 V455.7 H351.2 V460.1 H352.0 V463.7 H352.9 V463.8 H353.7 V464.1 H354.6 V465.6 H355.4 V468.7 H356.3 V472.5 H357.1 V474.6 H358.0 V474.9 H358.8 V475.0 H359.7 V475.6" fill="none" stroke="#111" stroke-width="1.3"/>
<path d="M295.9,473.2 H296.8 V468.7 H297.6 V467.1 H298.5 V466.8 H299.3 V466.4 H300.2 V466.0 H301.0 V465.6 H301.9 V464.4 H302.7 V464.3 H303.6 V462.7 H304.4 V461.8 H305.3 V460.8 H306.1 V459.4 H307.0 V457.5 H307.8 V456.6 H308.7 V454.3 H309.5 V451.6 H310.4 V449.5 H311.2 V446.6 H312.1 V444.3 H312.9 V440.7 H313.8 V438.5 H314.6 V434.9 H315.5 V433.3 H316.3 V430.0 H317.2 V427.0 H318.0 V422.1 H318.9 V417.3 H319.7 V413.3 H320.6 V409.3 H321.4 V405.7 H322.3 V400.2 H323.1 V395.5 H324.0 V389.2 H324.8 V384.5 H325.7 V379.8 H326.5 V376.1 H327.4 V371.0 H328.2 V367.6 H329.1 V365.5 H329.9 V360.5 H330.8 V356.7 H331.6 V351.6 H332.5 V348.7 H333.3 V346.0 H334.2 V343.3 H335.0 V338.2 H335.9 V335.3 H336.7 V337.5 H337.6 V338.7 H338.4 V339.0 H339.3 V346.9 H340.1 V354.6 H341.0 V362.0 H341.8 V370.5 H342.7 V381.1 H343.5 V390.5 H344.4 V399.0 H345.2 V408.8 H346.1 V417.4 H346.9 V425.7 H347.8 V432.9 H348.6 V440.7 H349.5 V447.0 H350.3 V454.1 H351.2 V459.7 H352.0 V464.1 H352.9 V467.0 H353.7 V469.8 H354.6 V471.7 H355.4 V473.0 H356.3 V473.7 H357.1 V474.4 H358.0 V474.5 H358.8 V474.9 H359.7 V475.1 H360.5 V475.7 H361.4 V475.6 H362.2 V475.8" fill="none" stroke="#111" stroke-width="1.4" stroke-dasharray="2.2 1.7"/>
<path d="M295.7,475.1 H296.6 V469.8 H297.4 V465.9 H298.3 V465.2 H299.1 V466.6 H300.0 V467.2 H300.8 V467.1 H301.7 V465.6 H302.5 V465.6 H303.4 V464.5 H304.2 V462.5 H305.1 V461.4 H305.9 V460.6 H306.8 V458.4 H307.6 V456.9 H308.5 V455.5 H309.3 V453.4 H310.2 V450.2 H311.0 V447.8 H311.9 V445.1 H312.7 V442.5 H313.6 V439.7 H314.4 V436.6 H315.3 V434.7 H316.1 V431.3 H317.0 V427.8 H317.8 V422.5 H318.7 V418.7 H319.5 V414.9 H320.4 V411.4 H321.2 V405.7 H322.1 V403.0 H322.9 V396.7 H323.8 V391.5 H324.6 V386.4 H325.5 V382.0 H326.3 V377.9 H327.2 V372.3 H328.0 V370.8 H328.9 V365.3 H329.7 V363.2 H330.6 V358.4 H331.4 V354.0 H332.3 V351.2 H333.1 V347.5 H334.0 V345.8 H334.8 V339.3 H335.7 V337.3 H336.5 V339.3 H337.4 V346.4 H338.2 V351.2 H339.1 V356.4 H339.9 V363.4 H340.8 V368.3 H341.6 V373.3 H342.5 V382.0 H343.3 V391.0 H344.2 V398.1 H345.0 V408.8 H345.9 V416.5 H346.7 V424.2 H347.6 V432.4 H348.4 V437.9 H349.3 V445.3 H350.1 V452.4 H351.0 V459.3 H351.8 V463.0 H352.7 V466.1 H353.5 V469.4 H354.4 V471.1 H355.2 V472.3 H356.1 V473.3 H356.9 V474.4 H357.8 V474.7 H358.6 V474.8 H359.5 V475.8 H360.3 V475.5 H361.2 V475.8 H362.0 V475.8 H362.9 V475.8 H363.7 V475.7 H364.6 V475.8" fill="none" stroke="#000" stroke-width="1.85"/>
<path d="M298.4,619.8 H299.2 V614.0 H300.1 V614.5 H301.0 V614.2 H301.8 V613.9 H302.7 V613.0 H303.5 V612.4 H304.4 V611.3 H305.2 V610.5 H306.1 V608.9 H306.9 V607.1 H307.8 V605.6 H308.6 V604.0 H309.5 V601.8 H310.3 V599.4 H311.2 V597.8 H312.0 V595.6 H312.9 V593.0 H313.7 V590.6 H314.6 V589.0 H315.4 V585.6 H316.3 V583.5 H317.1 V580.7 H318.0 V580.2 H318.8 V579.4 H319.7 V578.0 H320.5 V573.9 H321.4 V565.6 H322.2 V560.9 H323.1 V553.4 H323.9 V548.5 H324.8 V540.9 H325.6 V533.9 H326.5 V528.3 H327.3 V521.6 H328.2 V517.0 H329.0 V513.0 H329.9 V507.9 H330.7 V505.7 H331.6 V500.2 H332.4 V497.1 H333.3 V493.5 H334.1 V491.0 H335.0 V489.7 H335.8 V487.0 H336.7 V486.0 H337.5 V484.8 H338.4 V483.6 H339.2 V487.7 H340.1 V487.3 H340.9 V495.4 H341.8 V506.0 H342.6 V516.6 H343.5 V526.9 H344.3 V536.5 H345.2 V547.7 H346.0 V556.8 H346.9 V566.0 H347.7 V576.1 H348.6 V584.5 H349.4 V591.2 H350.3 V598.3 H351.1 V604.5 H352.0 V608.8 H352.8 V611.9 H353.7 V615.4 H354.5 V617.6 H355.4 V620.0 H356.2 V622.3 H357.1 V623.1 H357.9 V623.5 H358.8 V623.4 H359.6 V623.8 H360.5 V623.8" fill="none" stroke="#111" stroke-width="1.3"/>
<path d="M298.4,622.2 H299.2 V620.4 H300.1 V619.3 H301.0 V618.3 H301.8 V618.4 H302.7 V618.0 H303.5 V617.6 H304.4 V617.4 H305.2 V616.3 H306.1 V615.3 H306.9 V614.5 H307.8 V613.3 H308.6 V611.9 H309.5 V611.1 H310.3 V609.8 H311.2 V607.6 H312.0 V606.7 H312.9 V605.1 H313.7 V603.1 H314.6 V600.2 H315.4 V597.6 H316.3 V594.5 H317.1 V591.3 H318.0 V586.7 H318.8 V583.1 H319.7 V579.1 H320.5 V573.2 H321.4 V569.6 H322.2 V564.0 H323.1 V559.9 H323.9 V554.5 H324.8 V549.9 H325.6 V542.8 H326.5 V536.3 H327.3 V528.2 H328.2 V521.8 H329.0 V515.9 H329.9 V509.0 H330.7 V504.9 H331.6 V500.8 H332.4 V496.9 H333.3 V493.2 H334.1 V491.5 H335.0 V488.7 H335.8 V487.4 H336.7 V486.2 H337.5 V485.6 H338.4 V483.4 H339.2 V485.0 H340.1 V486.4 H340.9 V488.4 H341.8 V495.8 H342.6 V505.1 H343.5 V514.8 H344.3 V524.2 H345.2 V532.4 H346.0 V541.2 H346.9 V549.1 H347.7 V555.8 H348.6 V564.6 H349.4 V574.7 H350.3 V582.2 H351.1 V588.8 H352.0 V593.3 H352.8 V596.8 H353.7 V598.8 H354.5 V600.1 H355.4 V603.5 H356.2 V606.1 H357.1 V609.5 H357.9 V612.1 H358.8 V614.9 H359.6 V616.6 H360.5 V617.8 H361.3 V619.4 H362.2 V620.6 H363.0 V621.0 H363.9 V621.5 H364.7 V621.6 H365.6 V622.1 H366.4 V622.3 H367.3 V622.5 H368.1 V623.0 H369.0 V623.2 H369.8 V623.2 H370.7 V623.2 H371.5 V623.5" fill="none" stroke="#111" stroke-width="1.4" stroke-dasharray="2.2 1.7"/>
<path d="M298.4,623.6 H299.2 V621.8 H300.1 V620.2 H301.0 V619.5 H301.8 V619.4 H302.7 V619.3 H303.5 V618.6 H304.4 V617.6 H305.2 V617.4 H306.1 V616.2 H306.9 V615.8 H307.8 V614.2 H308.6 V613.5 H309.5 V611.4 H310.3 V611.4 H311.2 V608.8 H312.0 V607.3 H312.9 V606.1 H313.7 V605.2 H314.6 V601.6 H315.4 V598.9 H316.3 V594.3 H317.1 V592.7 H318.0 V588.0 H318.8 V584.5 H319.7 V580.9 H320.5 V574.1 H321.4 V570.4 H322.2 V566.8 H323.1 V562.1 H323.9 V556.1 H324.8 V549.3 H325.6 V542.9 H326.5 V536.0 H327.3 V530.0 H328.2 V523.0 H329.0 V516.2 H329.9 V510.5 H330.7 V505.8 H331.6 V500.5 H332.4 V497.9 H333.3 V492.7 H334.1 V491.3 H335.0 V490.6 H335.8 V488.3 H336.7 V487.6 H337.5 V482.9 H338.4 V484.6 H339.2 V482.8 H340.1 V487.3 H340.9 V488.6 H341.8 V498.7 H342.6 V508.7 H343.5 V516.8 H344.3 V526.7 H345.2 V538.2 H346.0 V545.6 H346.9 V552.6 H347.7 V559.6 H348.6 V568.8 H349.4 V578.4 H350.3 V588.2 H351.1 V593.5 H352.0 V598.2 H352.8 V601.0 H353.7 V604.3 H354.5 V607.5 H355.4 V609.9 H356.2 V612.6 H357.1 V614.4 H357.9 V615.9 H358.8 V617.1 H359.6 V618.7 H360.5 V619.4 H361.3 V620.3 H362.2 V620.7 H363.0 V620.9 H363.9 V621.7 H364.7 V622.0 H365.6 V622.5 H366.4 V622.6 H367.3 V622.9 H368.1 V623.4 H369.0 V623.5 H369.8 V623.5 H370.7 V623.8 H371.5 V623.7" fill="none" stroke="#000" stroke-width="1.85"/>
<path d="M298.6,771.0 L298.6,755.3 L300.4,754.3 H301.2 V751.4 H302.1 V748.0 H303.0 V744.3 H303.8 V740.3 H304.7 V735.6 H305.5 V731.0 H306.4 V726.4 H307.2 V722.1 H308.1 V717.1 H308.9 V712.7 H309.8 V708.1 H310.6 V703.1 H311.5 V698.0 H312.3 V694.0 H313.2 V688.1 H314.0 V682.7 H314.9 V677.1 H315.7 V672.0 H316.6 V666.5 H317.4 V661.1 H318.3 V655.8 H319.1 V652.6 H320.0 V647.4 H320.8 V644.3 H321.7 V640.8 H322.5 V640.0 H323.4 V642.0 H324.2 V642.8 H325.1 V642.7 H325.9 V644.0 H326.8 V647.0 H327.6 V648.5 H328.5 V652.8 H329.3 V656.6 H330.2 V662.0 H331.0 V664.6 H331.9 V669.6 H332.7 V674.2 H333.6 V679.3 H334.4 V684.1 H335.3 V690.2 H336.1 V696.1 H337.0 V704.8 H337.8 V712.2 H338.7 V718.9 H339.5 V726.5 H340.4 V733.3 H341.2 V740.5 H342.1 V745.8 H342.9 V749.4 H343.8 V753.0 H344.6 V756.2 H345.5 V758.6 H346.3 V760.6 H347.2 V763.2 H348.0 V765.0 H348.9 V766.2 H349.7 V767.3 H350.6 V768.4 H351.4 V769.3 H352.3 V769.5 H353.1 V770.1 H354.0 V770.0 H354.8 V770.3 H355.7 V770.4 H356.5 V770.6 H357.4 V770.8" fill="none" stroke="#111" stroke-width="1.4"/>
<path d="M392.2,769.2 H393.1 V767.0 H393.9 V764.3 H394.8 V761.8 H395.6 V758.8 H396.5 V756.4 H397.3 V751.7 H398.2 V748.5 H399.0 V744.0 H399.9 V740.3 H400.7 V735.9 H401.6 V731.8 H402.4 V727.5 H403.3 V722.8 H404.1 V718.1 H405.0 V712.8 H405.8 V708.0 H406.7 V703.1 H407.5 V697.0 H408.4 V691.7 H409.2 V686.9 H410.1 V680.8 H410.9 V676.5 H411.8 V670.3 H412.6 V666.4 H413.5 V666.6 H414.3 V671.4 H415.2 V677.3 H416.0 V684.8 H416.9 V688.6 H417.7 V690.6 H418.6 V692.1 H419.4 V693.4 H420.3 V696.1 H421.1 V698.8 H422.0 V704.2 H422.8 V708.7 H423.7 V708.7 H424.5 V710.0 H425.4 V709.3 H426.2 V711.7 H427.1 V712.7 H427.9 V708.9 H428.8 V703.9 H429.6 V700.1 H430.5 V696.4 H431.3 V693.9 H432.2 V690.4 H433.0 V690.3 H433.9 V690.1 H434.7 V690.0 H435.6 V690.4 H436.4 V695.7 H437.3 V704.2 H438.1 V714.3 H439.0 V722.4 H439.8 V728.5 H440.7 V731.1 H441.5 V734.0 H442.4 V737.4 H443.2 V741.1 H444.1 V744.0 H444.9 V748.3 H445.8 V751.4 H446.6 V755.2 H447.5 V757.4 H448.3 V760.2 H449.2 V762.6 H450.0 V764.3 H450.9 V765.5 H451.7 V767.4 H452.6 V768.7 H453.4 V770.1" fill="none" stroke="#111" stroke-width="1.4" stroke-dasharray="2.2 1.7"/>
<path d="M390.4,770.7 H391.2 V770.2 H392.1 V769.1 H393.0 V767.2 H393.8 V766.1 H394.7 V763.9 H395.5 V761.4 H396.4 V758.0 H397.2 V755.0 H398.1 V750.4 H398.9 V747.9 H399.8 V743.4 H400.6 V737.8 H401.5 V734.0 H402.3 V729.0 H403.2 V722.3 H404.0 V718.8 H404.9 V712.5 H405.7 V707.4 H406.6 V701.4 H407.4 V695.7 H408.3 V689.6 H409.1 V682.6 H410.0 V674.1 H410.8 V668.9 H411.7 V661.4 H412.5 V655.4 H413.4 V650.6 H414.2 V646.1 H415.1 V640.8 H415.9 V636.1 H416.8 V633.3 H417.6 V631.6 H418.5 V632.8 H419.3 V635.1 H420.2 V636.2 H421.0 V642.7 H421.9 V650.3 H422.7 V659.1 H423.6 V663.3 H424.4 V670.8 H425.3 V679.7 H426.1 V685.5 H427.0 V688.5 H427.8 V692.5 H428.7 V693.6 H429.5 V694.9 H430.4 V696.1 H431.2 V698.4 H432.1 V700.4 H432.9 V702.9 H433.8 V707.2 H434.6 V709.9 H435.5 V713.8 H436.3 V716.5 H437.2 V721.2 H438.0 V724.8 H438.9 V729.3 H439.7 V732.4 H440.6 V735.7 H441.4 V739.6 H442.3 V742.7 H443.1 V746.4 H444.0 V749.5 H444.8 V753.1 H445.7 V755.3 H446.5 V758.8 H447.4 V761.6 H448.2 V763.5 H449.1 V766.4 H449.9 V768.2 H450.8 V769.1 H451.6 V769.8" fill="none" stroke="#000" stroke-width="1.85"/>
<path d="M47.0,771.0 V776.0 M62.9,771.0 V773.8 M72.2,771.0 V773.8 M78.8,771.0 V773.8 M84.0,771.0 V773.8 M88.2,771.0 V773.8 M91.7,771.0 V773.8 M94.8,771.0 V773.8 M97.5,771.0 V773.8 M99.9,771.0 V776.0 M115.8,771.0 V773.8 M125.1,771.0 V773.8 M131.7,771.0 V773.8 M136.9,771.0 V773.8 M141.1,771.0 V773.8 M144.6,771.0 V773.8 M147.7,771.0 V773.8 M150.4,771.0 V773.8 M152.8,771.0 V776.0 M168.7,771.0 V773.8 M178.0,771.0 V773.8 M184.6,771.0 V773.8 M189.8,771.0 V773.8 M194.0,771.0 V773.8 M197.5,771.0 V773.8 M200.6,771.0 V773.8 M203.3,771.0 V773.8 M205.7,771.0 V776.0 M221.6,771.0 V773.8 M230.9,771.0 V773.8 M237.5,771.0 V773.8 M242.7,771.0 V773.8 M246.9,771.0 V773.8 M250.4,771.0 V773.8 M253.5,771.0 V773.8 M256.2,771.0 V773.8 M258.6,771.0 V776.0" stroke="#000" stroke-width="1.5" fill="none"/>
<path d="M297.9,772.0 V777.0 M314.0,772.0 V774.8 M323.4,772.0 V774.8 M330.0,772.0 V774.8 M335.2,772.0 V774.8 M339.4,772.0 V774.8 M343.0,772.0 V774.8 M346.1,772.0 V774.8 M348.8,772.0 V774.8 M351.2,772.0 V777.0 M367.3,772.0 V774.8 M376.7,772.0 V774.8 M383.4,772.0 V774.8 M388.5,772.0 V774.8 M392.8,772.0 V774.8 M396.3,772.0 V774.8 M399.4,772.0 V774.8 M402.2,772.0 V774.8 M404.6,772.0 V777.0 M420.7,772.0 V774.8 M430.1,772.0 V774.8 M436.7,772.0 V774.8 M441.9,772.0 V774.8 M446.1,772.0 V774.8 M449.7,772.0 V774.8 M452.8,772.0 V774.8 M455.5,772.0 V774.8 M457.9,772.0 V777.0 M474.0,772.0 V774.8 M483.4,772.0 V774.8 M490.1,772.0 V774.8 M495.2,772.0 V774.8 M499.5,772.0 V774.8 M503.0,772.0 V774.8 M506.1,772.0 V774.8 M508.9,772.0 V774.8 M511.3,772.0 V777.0" stroke="#000" stroke-width="1.5" fill="none"/>
<text x="0" y="792.0" font-family="Liberation Sans, sans-serif" font-weight="bold" font-size="14.2" stroke="#000" stroke-width="0.35" transform="translate(90.8,0) scale(0.62,1)">10</text><text x="0" y="788.6" font-family="Liberation Sans, sans-serif" font-weight="bold" font-size="10.2" stroke="#000" stroke-width="0.25" transform="translate(100.6,0) scale(0.6,1)">1</text>
<text x="0" y="792.0" font-family="Liberation Sans, sans-serif" font-weight="bold" font-size="14.2" stroke="#000" stroke-width="0.35" transform="translate(142.1,0) scale(0.62,1)">10</text><text x="0" y="788.6" font-family="Liberation Sans, sans-serif" font-weight="bold" font-size="10.2" stroke="#000" stroke-width="0.25" transform="translate(151.9,0) scale(0.6,1)">2</text>
<text x="0" y="792.0" font-family="Liberation Sans, sans-serif" font-weight="bold" font-size="14.2" stroke="#000" stroke-width="0.35" transform="translate(195.0,0) scale(0.62,1)">10</text><text x="0" y="788.6" font-family="Liberation Sans, sans-serif" font-weight="bold" font-size="10.2" stroke="#000" stroke-width="0.25" transform="translate(204.8,0) scale(0.6,1)">3</text>
<text x="0" y="792.0" font-family="Liberation Sans, sans-serif" font-weight="bold" font-size="14.2" stroke="#000" stroke-width="0.35" transform="translate(248.1,0) scale(0.62,1)">10</text><text x="0" y="788.6" font-family="Liberation Sans, sans-serif" font-weight="bold" font-size="10.2" stroke="#000" stroke-width="0.25" transform="translate(257.9,0) scale(0.6,1)">4</text>
<text x="0" y="792.0" font-family="Liberation Sans, sans-serif" font-weight="bold" font-size="14.2" stroke="#000" stroke-width="0.35" transform="translate(342.0,0) scale(0.62,1)">10</text><text x="0" y="788.6" font-family="Liberation Sans, sans-serif" font-weight="bold" font-size="10.2" stroke="#000" stroke-width="0.25" transform="translate(351.8,0) scale(0.6,1)">1</text>
<text x="0" y="792.0" font-family="Liberation Sans, sans-serif" font-weight="bold" font-size="14.2" stroke="#000" stroke-width="0.35" transform="translate(394.6,0) scale(0.62,1)">10</text><text x="0" y="788.6" font-family="Liberation Sans, sans-serif" font-weight="bold" font-size="10.2" stroke="#000" stroke-width="0.25" transform="translate(404.4,0) scale(0.6,1)">2</text>
<text x="0" y="792.0" font-family="Liberation Sans, sans-serif" font-weight="bold" font-size="14.2" stroke="#000" stroke-width="0.35" transform="translate(447.0,0) scale(0.62,1)">10</text><text x="0" y="788.6" font-family="Liberation Sans, sans-serif" font-weight="bold" font-size="10.2" stroke="#000" stroke-width="0.25" transform="translate(456.8,0) scale(0.6,1)">3</text>
<text x="0" y="792.0" font-family="Liberation Sans, sans-serif" font-weight="bold" font-size="14.2" stroke="#000" stroke-width="0.35" transform="translate(500.9,0) scale(0.62,1)">10</text><text x="0" y="788.6" font-family="Liberation Sans, sans-serif" font-weight="bold" font-size="10.2" stroke="#000" stroke-width="0.25" transform="translate(510.7,0) scale(0.6,1)">4</text>
<text x="182.5" y="93.2" font-family="Liberation Sans, sans-serif" font-weight="bold" font-size="15.3" stroke="#000" stroke-width="0.6" textLength="53.2" lengthAdjust="spacingAndGlyphs">ICAM-1</text>
<text x="177.3" y="226.7" font-family="Liberation Sans, sans-serif" font-weight="bold" font-size="15.3" stroke="#000" stroke-width="0.6" textLength="61.4" lengthAdjust="spacingAndGlyphs">HLA-DR</text>
<text x="197.1" y="376.8" font-family="Liberation Sans, sans-serif" font-weight="bold" font-size="15.3" stroke="#000" stroke-width="0.6" textLength="31.9" lengthAdjust="spacingAndGlyphs">B7-1</text>
<text x="199.8" y="517.8" font-family="Liberation Sans, sans-serif" font-weight="bold" font-size="15.3" stroke="#000" stroke-width="0.6" textLength="34.2" lengthAdjust="spacingAndGlyphs">B7-2</text>
<text x="197.5" y="666.6" font-family="Liberation Sans, sans-serif" font-weight="bold" font-size="15.3" stroke="#000" stroke-width="0.6" textLength="44.7" lengthAdjust="spacingAndGlyphs">LFA-3</text>
<text x="445.5" y="85.7" font-family="Liberation Sans, sans-serif" font-weight="bold" font-size="15.3" stroke="#000" stroke-width="0.6" textLength="43.7" lengthAdjust="spacingAndGlyphs">LFA-1</text>
<text x="442.8" y="230.4" font-family="Liberation Sans, sans-serif" font-weight="bold" font-size="15.3" stroke="#000" stroke-width="0.6" textLength="42.1" lengthAdjust="spacingAndGlyphs">CD28</text>
<text x="447.2" y="376.5" font-family="Liberation Sans, sans-serif" font-weight="bold" font-size="15.3" stroke="#000" stroke-width="0.6" textLength="32.6" lengthAdjust="spacingAndGlyphs">B7-1</text>
<text x="449.9" y="520.4" font-family="Liberation Sans, sans-serif" font-weight="bold" font-size="15.3" stroke="#000" stroke-width="0.6" textLength="34.6" lengthAdjust="spacingAndGlyphs">B7-2</text>
<text x="449.9" y="669.8" font-family="Liberation Sans, sans-serif" font-weight="bold" font-size="15.3" stroke="#000" stroke-width="0.6" textLength="31.9" lengthAdjust="spacingAndGlyphs">CD2</text>
<text x="118.3" y="22.7" font-family="Liberation Sans, sans-serif" font-weight="bold" font-size="25" stroke="#000" stroke-width="0.6" textLength="78.7" lengthAdjust="spacingAndGlyphs">CD14+</text>
<text x="381.9" y="20.2" font-family="Liberation Sans, sans-serif" font-weight="bold" font-size="25" stroke="#000" stroke-width="0.6" textLength="65" lengthAdjust="spacingAndGlyphs">CD4+</text>
<text x="0" y="0" font-family="Liberation Sans, sans-serif" font-weight="bold" font-size="21.5" stroke="#000" stroke-width="0.4" textLength="124.5" lengthAdjust="spacingAndGlyphs" transform="translate(18.5,472) rotate(-90)">Cell number</text>
<text x="174.6" y="819.6" font-family="Liberation Sans, sans-serif" font-weight="bold" font-size="19" stroke="#000" stroke-width="0.45" textLength="121.8" lengthAdjust="spacingAndGlyphs">Fluorescence</text>
<text x="308" y="819.6" font-family="Liberation Sans, sans-serif" font-weight="bold" font-size="19" stroke="#000" stroke-width="0.45" textLength="77.4" lengthAdjust="spacingAndGlyphs">intensity</text>
</svg>
</body></html>
